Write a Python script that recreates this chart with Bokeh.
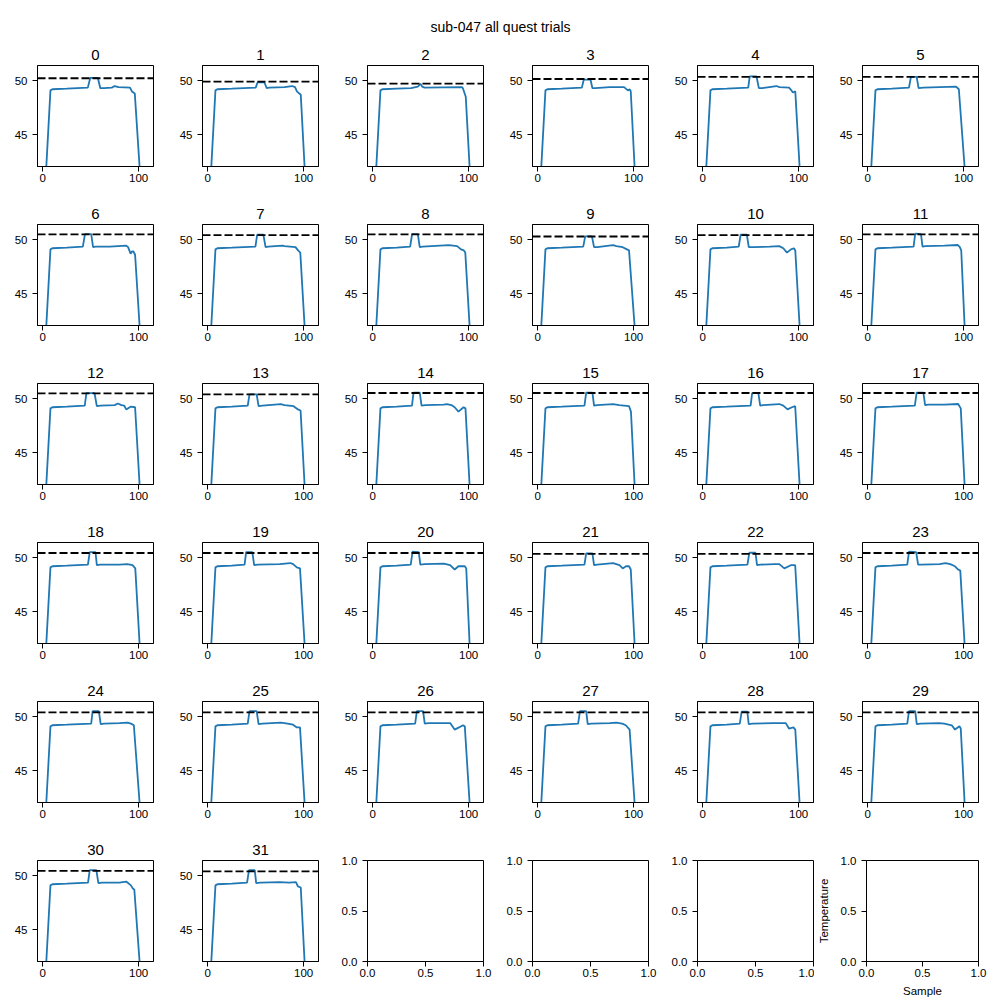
from bokeh.plotting import figure
from bokeh.models import Range1d, Span, FixedTicker, PrintfTickFormatter
from bokeh.layouts import column, row
from bokeh.embed import file_html
from bokeh.resources import INLINE

# ---------------- data ----------------
suptitle = "sub-047 all quest trials"
trial_ids = list(range(32))
targets = [50.22, 49.90, 49.72, 50.15, 50.35, 50.35,
           50.48, 50.42, 50.48, 50.29, 50.42, 50.48,
           50.49, 50.40, 50.52, 50.52, 50.52, 50.52,
           50.43, 50.43, 50.43, 50.34, 50.34, 50.43,
           50.40, 50.40, 50.40, 50.40, 50.40, 50.40,
           50.44, 50.40]

trial_x = [
    [0, 8, 10, 25, 47, 49.5, 57.5, 60, 64, 72, 75, 79, 91, 93, 96, 101, 105, 110],
    [0, 8, 10, 25, 50, 52, 59, 61.5, 64, 80, 88, 91, 93, 95.5, 97, 101, 105, 110],
    [0, 8, 10, 25, 40, 47, 50, 51.5, 54, 93, 94, 97, 101, 105, 110],
    [0, 8, 10, 25, 46, 48, 55, 57, 60, 75, 90, 94, 96, 97, 101, 105, 110],
    [0, 8, 10, 25, 47.4, 49, 56, 58.5, 62, 76.8, 80, 90, 92, 94, 96.5, 101, 105, 110],
    [0, 8, 10, 25, 43, 45, 51, 53, 58, 75, 92, 95, 101, 105, 110],
    [0, 8, 10, 25, 41.8, 44, 50.5, 52.5, 55, 70, 87, 89, 91.6, 93, 94.5, 96.3, 101, 105, 110],
    [0, 8, 10, 25, 49.7, 51.5, 58, 60.3, 63, 78, 80, 91.5, 94.2, 96.5, 101, 105, 110],
    [0, 8, 10, 25, 39, 41, 47, 49, 52, 79.4, 88, 92, 95, 96.5, 101, 105, 110],
    [0, 8, 10, 25, 47.4, 49.5, 56.5, 58.7, 62, 78.6, 82, 88.6, 93, 95.2, 101, 105, 110],
    [0, 8, 10, 25, 37.5, 39.5, 46, 48, 52, 70, 79.8, 84, 87.8, 92, 95.1, 96.5, 101, 105, 110],
    [0, 8, 10, 25, 47.8, 49.5, 55.5, 57.1, 60, 80, 94, 96, 97.5, 101, 105, 110],
    [0, 8, 10, 25, 43.8, 45.5, 54, 56.4, 60, 75, 78.4, 82, 85, 87, 91.6, 96.3, 101, 105, 110],
    [0, 8, 10, 25, 41.7, 43.5, 51, 53, 57, 76.2, 80, 89.5, 94.1, 96.8, 101, 105, 110],
    [0, 8, 10, 25, 40.9, 42.5, 49, 50.9, 55, 74, 77.4, 82, 85.4, 89.4, 94.7, 96.7, 101, 105, 110],
    [0, 8, 10, 25, 48.7, 50.5, 57, 58.7, 62, 78.6, 85, 95.2, 97.2, 101, 105, 110],
    [0, 8, 10, 25, 49.9, 51.5, 58, 59.9, 63, 79.8, 84, 88.4, 93, 96.4, 101, 105, 110],
    [0, 8, 10, 25, 49.1, 51, 58, 59.8, 63, 80, 94.3, 97, 101, 105, 110],
    [0, 8, 10, 25, 47.1, 49, 55, 56.4, 60, 80, 88.3, 93.6, 96.5, 101, 105, 110],
    [0, 8, 10, 25, 38.4, 40, 46.5, 48.4, 52, 75, 86.2, 89, 92.9, 96.2, 101, 105, 110],
    [0, 8, 10, 25, 39.6, 41.5, 48, 49.6, 54, 74.1, 80.7, 85.4, 89.4, 96, 97.5, 101, 105, 110],
    [0, 8, 10, 25, 48.7, 50.5, 57, 58.7, 62, 78.6, 85.2, 88.6, 92, 95.2, 97, 101, 105, 110],
    [0, 8, 10, 25, 46.6, 48.5, 55, 56.6, 60, 75, 79.8, 85.1, 91.8, 96.4, 101, 105, 110],
    [0, 8, 10, 25, 41.2, 43, 50.5, 52.5, 56, 75, 81, 86, 91, 94.3, 96.5, 101, 105, 110],
    [0, 8, 10, 25, 50.5, 52, 58.5, 60.4, 64, 80, 88.3, 92, 95, 101, 105, 110],
    [0, 8, 10, 25, 41.7, 43.5, 51, 53, 57, 76.2, 80, 86.2, 89, 92.9, 96.2, 101, 105, 110],
    [0, 8, 10, 25, 44.2, 46, 52.5, 54.2, 58, 75, 80.7, 85.4, 90, 94, 96, 101, 105, 110],
    [0, 8, 10, 25, 42.1, 44, 50.5, 52.1, 56, 75, 81.9, 88, 91.8, 95.8, 101, 105, 110],
    [0, 8, 10, 25, 38.6, 40.5, 46.5, 47.9, 52, 73.3, 86.6, 89.9, 94.6, 96.5, 101, 105, 110],
    [0, 8, 10, 25, 41.2, 43, 49.5, 51.1, 55, 74.4, 80, 87.6, 91, 95.6, 97, 101, 105, 110],
    [0, 8, 10, 25, 47.2, 49, 55.9, 58, 62, 80, 87, 92, 94, 95.5, 101, 105, 110],
    [0, 8, 10, 25, 41, 43, 49, 50.5, 55, 75, 85, 92, 94, 97, 101, 105, 110],
]

trial_y = [
    [36.0, 49.1, 49.2, 49.25, 49.35, 50.25, 50.25, 49.3, 49.3, 49.35, 49.5, 49.4, 49.35, 49.0, 48.8, 42.0, 34.5, 33.0],
    [36.0, 49.1, 49.2, 49.25, 49.35, 49.85, 49.85, 49.3, 49.35, 49.4, 49.5, 49.4, 49.0, 48.8, 48.7, 42.0, 34.5, 33.0],
    [36.0, 49.1, 49.2, 49.25, 49.3, 49.45, 49.7, 49.45, 49.35, 49.4, 49.3, 48.5, 42.0, 34.5, 33.0],
    [36.0, 49.1, 49.2, 49.25, 49.35, 50.1, 50.1, 49.3, 49.3, 49.4, 49.4, 49.1, 49.2, 49.0, 42.0, 34.5, 33.0],
    [36.0, 49.1, 49.2, 49.25, 49.35, 50.4, 50.4, 49.3, 49.3, 49.5, 49.4, 49.35, 49.15, 48.9, 49.0, 42.0, 34.5, 33.0],
    [36.0, 49.1, 49.2, 49.25, 49.35, 50.35, 50.35, 49.3, 49.35, 49.4, 49.45, 49.2, 42.0, 34.5, 33.0],
    [36.0, 49.1, 49.2, 49.25, 49.35, 50.5, 50.5, 49.3, 49.35, 49.35, 49.45, 49.3, 48.7, 48.9, 48.9, 48.6, 42.0, 34.5, 33.0],
    [36.0, 49.1, 49.2, 49.25, 49.35, 50.45, 50.45, 49.3, 49.35, 49.45, 49.4, 49.3, 49.0, 48.8, 42.0, 34.5, 33.0],
    [36.0, 49.1, 49.2, 49.25, 49.35, 50.5, 50.5, 49.3, 49.35, 49.5, 49.4, 49.1, 49.0, 48.8, 42.0, 34.5, 33.0],
    [36.0, 49.1, 49.2, 49.25, 49.35, 50.3, 50.3, 49.3, 49.3, 49.5, 49.4, 49.3, 49.1, 49.0, 42.0, 34.5, 33.0],
    [36.0, 49.1, 49.2, 49.25, 49.35, 50.45, 50.45, 49.3, 49.3, 49.35, 49.4, 49.2, 48.8, 49.1, 49.2, 49.0, 42.0, 34.5, 33.0],
    [36.0, 49.1, 49.2, 49.25, 49.35, 50.55, 50.5, 49.35, 49.4, 49.45, 49.5, 49.3, 49.0, 42.0, 34.5, 33.0],
    [36.0, 49.1, 49.2, 49.25, 49.35, 50.5, 50.5, 49.3, 49.35, 49.4, 49.55, 49.4, 49.35, 49.0, 49.25, 49.2, 42.0, 34.5, 33.0],
    [36.0, 49.1, 49.2, 49.25, 49.35, 50.4, 50.4, 49.3, 49.35, 49.5, 49.4, 49.3, 49.0, 48.9, 42.0, 34.5, 33.0],
    [36.0, 49.1, 49.2, 49.25, 49.35, 50.55, 50.55, 49.35, 49.4, 49.45, 49.5, 49.4, 49.2, 48.8, 49.2, 49.1, 42.0, 34.5, 33.0],
    [36.0, 49.1, 49.2, 49.25, 49.35, 50.55, 50.55, 49.35, 49.4, 49.5, 49.4, 49.3, 48.8, 42.0, 34.5, 33.0],
    [36.0, 49.1, 49.2, 49.25, 49.35, 50.5, 50.5, 49.35, 49.4, 49.5, 49.35, 49.0, 49.2, 49.3, 42.0, 34.5, 33.0],
    [36.0, 49.1, 49.2, 49.25, 49.35, 50.55, 50.55, 49.4, 49.45, 49.45, 49.5, 49.1, 42.0, 34.5, 33.0],
    [36.0, 49.1, 49.2, 49.25, 49.35, 50.5, 50.5, 49.3, 49.35, 49.35, 49.4, 49.3, 49.0, 42.0, 34.5, 33.0],
    [36.0, 49.1, 49.2, 49.25, 49.35, 50.5, 50.5, 49.3, 49.35, 49.4, 49.5, 49.4, 49.1, 49.0, 42.0, 34.5, 33.0],
    [36.0, 49.1, 49.2, 49.25, 49.35, 50.55, 50.5, 49.35, 49.4, 49.45, 49.3, 48.9, 49.2, 49.2, 49.0, 42.0, 34.5, 33.0],
    [36.0, 49.1, 49.2, 49.25, 49.35, 50.4, 50.4, 49.3, 49.35, 49.5, 49.3, 49.0, 49.2, 49.2, 48.9, 42.0, 34.5, 33.0],
    [36.0, 49.1, 49.2, 49.25, 49.35, 50.45, 50.45, 49.3, 49.35, 49.4, 49.4, 49.0, 49.3, 49.3, 42.0, 34.5, 33.0],
    [36.0, 49.1, 49.2, 49.25, 49.35, 50.55, 50.5, 49.35, 49.35, 49.4, 49.5, 49.4, 49.2, 48.9, 48.8, 42.0, 34.5, 33.0],
    [36.0, 49.1, 49.2, 49.25, 49.35, 50.5, 50.5, 49.3, 49.35, 49.4, 49.45, 49.35, 49.2, 42.0, 34.5, 33.0],
    [36.0, 49.1, 49.2, 49.25, 49.35, 50.5, 50.5, 49.3, 49.35, 49.45, 49.4, 49.3, 49.25, 49.0, 49.0, 42.0, 34.5, 33.0],
    [36.0, 49.1, 49.2, 49.25, 49.35, 50.5, 50.5, 49.35, 49.4, 49.4, 49.4, 48.8, 49.0, 49.2, 49.1, 42.0, 34.5, 33.0],
    [36.0, 49.1, 49.2, 49.25, 49.35, 50.5, 50.5, 49.3, 49.35, 49.4, 49.45, 49.35, 49.2, 48.8, 42.0, 34.5, 33.0],
    [36.0, 49.1, 49.2, 49.25, 49.35, 50.45, 50.45, 49.3, 49.35, 49.4, 49.4, 48.9, 49.0, 48.8, 42.0, 34.5, 33.0],
    [36.0, 49.1, 49.2, 49.25, 49.35, 50.5, 50.5, 49.3, 49.35, 49.4, 49.35, 49.2, 48.8, 49.1, 48.9, 42.0, 34.5, 33.0],
    [36.0, 49.1, 49.2, 49.25, 49.35, 50.5, 50.5, 49.3, 49.35, 49.35, 49.45, 49.1, 48.8, 48.7, 42.0, 34.5, 33.0],
    [36.0, 49.1, 49.2, 49.25, 49.35, 50.5, 50.5, 49.3, 49.35, 49.4, 49.35, 49.4, 49.0, 48.9, 42.0, 34.5, 33.0],
]

x_ticks = [0, 100]
y_ticks = [45, 50]
empty_ticks = [0.0, 0.5, 1.0]
x_label = "Sample"
y_label = "Temperature"

for a, b in zip(trial_x, trial_y):
    assert len(a) == len(b)

# ---------------- style ----------------
FONT = "'Liberation Sans Narrow', 'Arial Narrow', 'Liberation Sans', Arial, sans-serif"
BLUE = "#1f77b4"
NROWS, NCOLS = 6, 6
FRAME_W, FRAME_H = 116, 101


def style_axes(p):
    p.grid.visible = False
    p.outline_line_color = "black"
    p.outline_line_width = 1
    p.background_fill_color = "white"
    p.border_fill_color = "white"
    for ax in (p.xaxis[0], p.yaxis[0]):
        ax.axis_line_color = "black"
        ax.axis_line_width = 1
        ax.major_tick_line_color = "black"
        ax.major_tick_out = 5
        ax.major_tick_in = 0
        ax.minor_tick_line_color = None
        ax.major_label_text_font = FONT
        ax.major_label_text_font_size = "11.5px"
        ax.major_label_text_color = "black"
        ax.axis_label_text_font = FONT
        ax.axis_label_text_font_size = "11.5px"
        ax.axis_label_text_font_style = "normal"
        ax.axis_label_text_color = "black"
    p.yaxis.major_label_standoff = 5
    p.xaxis.major_label_standoff = 2


header = figure(width=1000, height=35, toolbar_location=None, output_backend="svg",
                x_range=Range1d(0, 1), y_range=Range1d(0, 1),
                min_border_left=0, min_border_right=0, min_border_top=34, min_border_bottom=0)
header.axis.visible = False
header.grid.visible = False
header.outline_line_color = None
header.title.text = suptitle
header.title.align = "center"
header.title.text_font = FONT
header.title.text_font_size = "14px"
header.title.text_font_style = "normal"
header.title.text_color = "black"
header.title.standoff = 0

rows = []
for r in range(NROWS):
    if r == 0:
        top, height = 30, 153
    elif r == NROWS - 1:
        top, height = 36, 176
    else:
        top, height = 36, 159
    children = []
    for c in range(NCOLS):
        k = r * NCOLS + c
        width = 165 if c < 5 else 175
        left = 37
        if r == NROWS - 1 and c == 4:
            width = 154
        if r == NROWS - 1 and c == 5:
            width = 186
            left = 48
        right = width - left - FRAME_W
        bottom = height - top - FRAME_H
        if k < len(trial_ids):
            p = figure(width=width, height=height, toolbar_location=None, output_backend="svg",
                       x_range=Range1d(-5.5, 115.5), y_range=Range1d(42.05, 51.4),
                       min_border_left=left, min_border_right=right,
                       min_border_top=top, min_border_bottom=bottom)
            style_axes(p)
            p.xaxis.ticker = FixedTicker(ticks=x_ticks)
            p.yaxis.ticker = FixedTicker(ticks=y_ticks)
            p.title.text = str(trial_ids[k])
            p.title.align = "center"
            p.title.text_font = FONT
            p.title.text_font_size = "15px"
            p.title.text_font_style = "normal"
            p.title.text_color = "black"
            p.title.standoff = 11
            p.line(trial_x[k], trial_y[k], line_color=BLUE, line_width=1.8)
            p.add_layout(Span(location=targets[k], dimension="width", line_color="black",
                              line_dash="8 3", line_width=1.8))
        else:
            p = figure(width=width, height=height, toolbar_location=None, output_backend="svg",
                       x_range=Range1d(0, 1), y_range=Range1d(0, 1),
                       min_border_left=left, min_border_right=right,
                       min_border_top=top, min_border_bottom=bottom)
            style_axes(p)
            p.xaxis.ticker = FixedTicker(ticks=empty_ticks)
            p.yaxis.ticker = FixedTicker(ticks=empty_ticks)
            p.xaxis.formatter = PrintfTickFormatter(format="%.1f")
            p.yaxis.formatter = PrintfTickFormatter(format="%.1f")
            if k == NROWS * NCOLS - 1:
                p.xaxis.axis_label = x_label
                p.xaxis.axis_label_standoff = 5
                p.yaxis.axis_label = y_label
                p.yaxis.axis_label_standoff = 8
        children.append(p)
    rows.append(row(*children))

layout = column(header, *rows)
open("out.html", "w").write(file_html(layout, INLINE, title=suptitle))
